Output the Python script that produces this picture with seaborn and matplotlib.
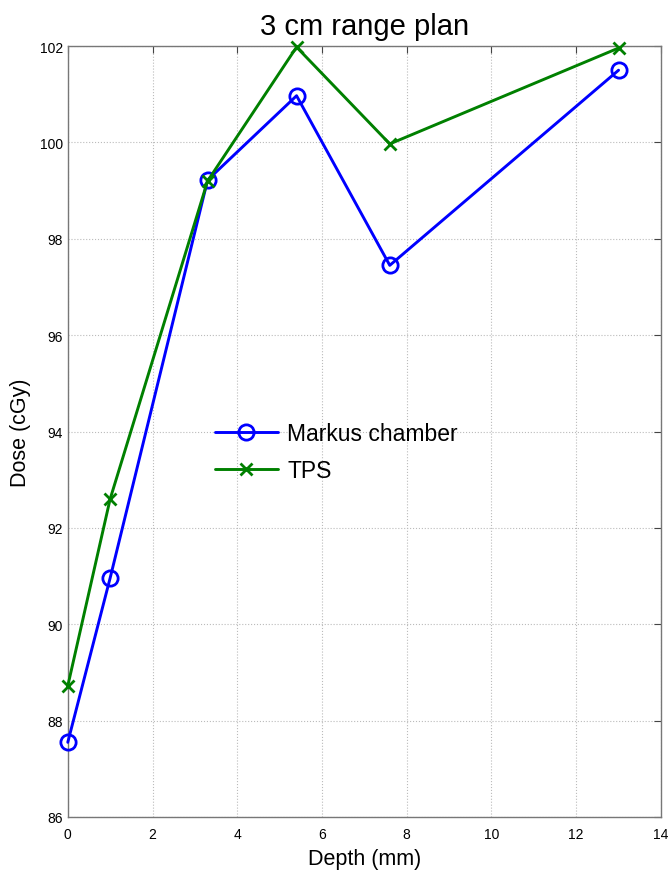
import matplotlib
matplotlib.use("Agg")
import matplotlib.pyplot as plt
import seaborn as sns
import pandas as pd

depth = [0, 1, 3.3, 5.4, 7.6, 13]
markus = [87.55, 90.96, 99.22, 100.97, 97.45, 101.5]
tps = [88.72, 92.6, 99.2, 101.98, 99.97, 101.96]
xticks = [0, 2, 4, 6, 8, 10, 12, 14]
yticks = [86, 88, 90, 92, 94, 96, 98, 100, 102]

sns.set_style("white")
plt.rcParams['font.family'] = ['Liberation Sans', 'DejaVu Sans']
plt.rcParams['text.color'] = 'black'
plt.rcParams['axes.labelcolor'] = 'black'

fig = plt.figure(figsize=(6.71, 8.79), dpi=100)
ax = fig.add_axes([0.101, 0.0694, 0.884, 0.877])

df_m = pd.DataFrame({"Depth": depth, "Dose": markus})
df_t = pd.DataFrame({"Depth": depth, "Dose": tps})

sns.lineplot(data=df_m, x="Depth", y="Dose", ax=ax, color=(0, 0, 1), lw=2.1,
             marker="o", markersize=11, markerfacecolor="none",
             markeredgecolor=(0, 0, 1), markeredgewidth=2, label="Markus chamber",
             clip_on=False, zorder=3)
sns.lineplot(data=df_t, x="Depth", y="Dose", ax=ax, color=(0, 0.5, 0), lw=2.1,
             marker="x", markersize=8, markeredgecolor=(0, 0.5, 0),
             markeredgewidth=2, label="TPS", clip_on=False, zorder=3)

ax.set_xlim(0, 14)
ax.set_ylim(86, 102)
ax.set_xticks(xticks)
ax.set_yticks(yticks)
ax.tick_params(direction="in", top=True, right=True, length=5, width=0.8,
               labelsize=10, colors="#444444", labelcolor="black")
ax.tick_params(axis="x", pad=7)
ax.grid(True, linestyle=":", color="#bbbbbb", linewidth=0.8)
for s in ax.spines.values():
    s.set_color("#777777")
    s.set_linewidth(1)

ax.set_title("3 cm range plan", fontsize=21, pad=9, color="black")
ax.set_xlabel("Depth (mm)", fontsize=15.5, labelpad=5, color="black")
ax.set_ylabel("Dose (cGy)", fontsize=15.5, labelpad=6, color="black")

leg = ax.legend(loc="center left", bbox_to_anchor=(0.248, 0.473), frameon=False,
                fontsize=16.5, handlelength=2.75, handletextpad=0.4, labelspacing=0.6,
                borderaxespad=0, borderpad=0)
for t in leg.get_texts():
    t.set_color("black")

fig.savefig("out.png", dpi=100)
